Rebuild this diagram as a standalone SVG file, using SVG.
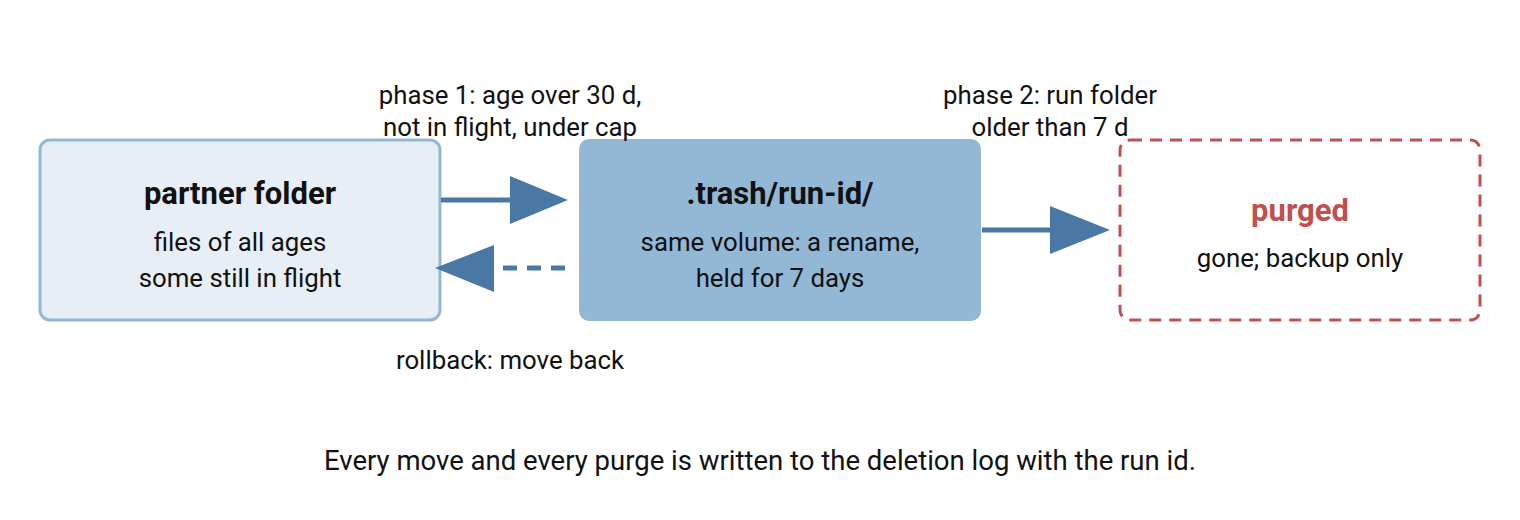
<svg xmlns="http://www.w3.org/2000/svg" width="1520" height="520" viewBox="0 0 1520 520">
<style>
text{font-family:Roboto,"Liberation Sans",sans-serif;text-anchor:middle;fill:#111}
.t{font-size:31px;font-weight:bold}
.s{font-size:25.8px}
.e{stroke:#4a78a5;stroke-width:5;fill:none}
.h{fill:#4a78a5}
</style>
<rect width="1520" height="520" fill="#fff"/>
<g id="partner">
<rect x="40" y="140" width="400" height="180" rx="10" fill="#e8eef5" stroke="#92b8d6" stroke-width="3"/>
<text class="t" x="240" y="204">partner folder</text>
<text class="s" x="240" y="251">files of all ages</text>
<text class="s" x="240" y="287">some still in flight</text>
</g>
<g id="trash">
<rect x="579" y="139" width="402" height="182" rx="10" fill="#92b8d6"/>
<text class="t" x="780" y="204">.trash/run-id/</text>
<text class="s" x="780" y="251">same volume: a rename,</text>
<text class="s" x="780" y="287">held for 7 days</text>
</g>
<g id="purged">
<rect x="1120" y="140" width="360" height="180" rx="10" fill="#fff" stroke="#c0504d" stroke-width="3" stroke-dasharray="12,8"/>
<text class="t" x="1300" y="221" style="fill:#c0504d">purged</text>
<text class="s" x="1300" y="267">gone; backup only</text>
</g>
<g id="connectors">
<line class="e" x1="441" y1="200" x2="512" y2="200"/>
<polygon class="h" points="510,176 568,200 510,224"/>
<line class="e" x1="982" y1="230" x2="1052" y2="230"/>
<polygon class="h" points="1050,206 1110,230 1050,254"/>
<line class="e" x1="565" y1="268" x2="494" y2="268" stroke-dasharray="14,10"/>
<polygon class="h" points="494,245 435,268 494,292"/>
<text class="s" x="510" y="104">phase 1: age over 30 d,</text>
<text class="s" x="510" y="136">not in flight, under cap</text>
<text class="s" x="1050" y="104">phase 2: run folder</text>
<text class="s" x="1050" y="136">older than 7 d</text>
<text class="s" x="510" y="369">rollback: move back</text>
</g>
<text class="s" x="760" y="470" style="font-size:27.5px">Every move and every purge is written to the deletion log with the run id.</text>
</svg>
